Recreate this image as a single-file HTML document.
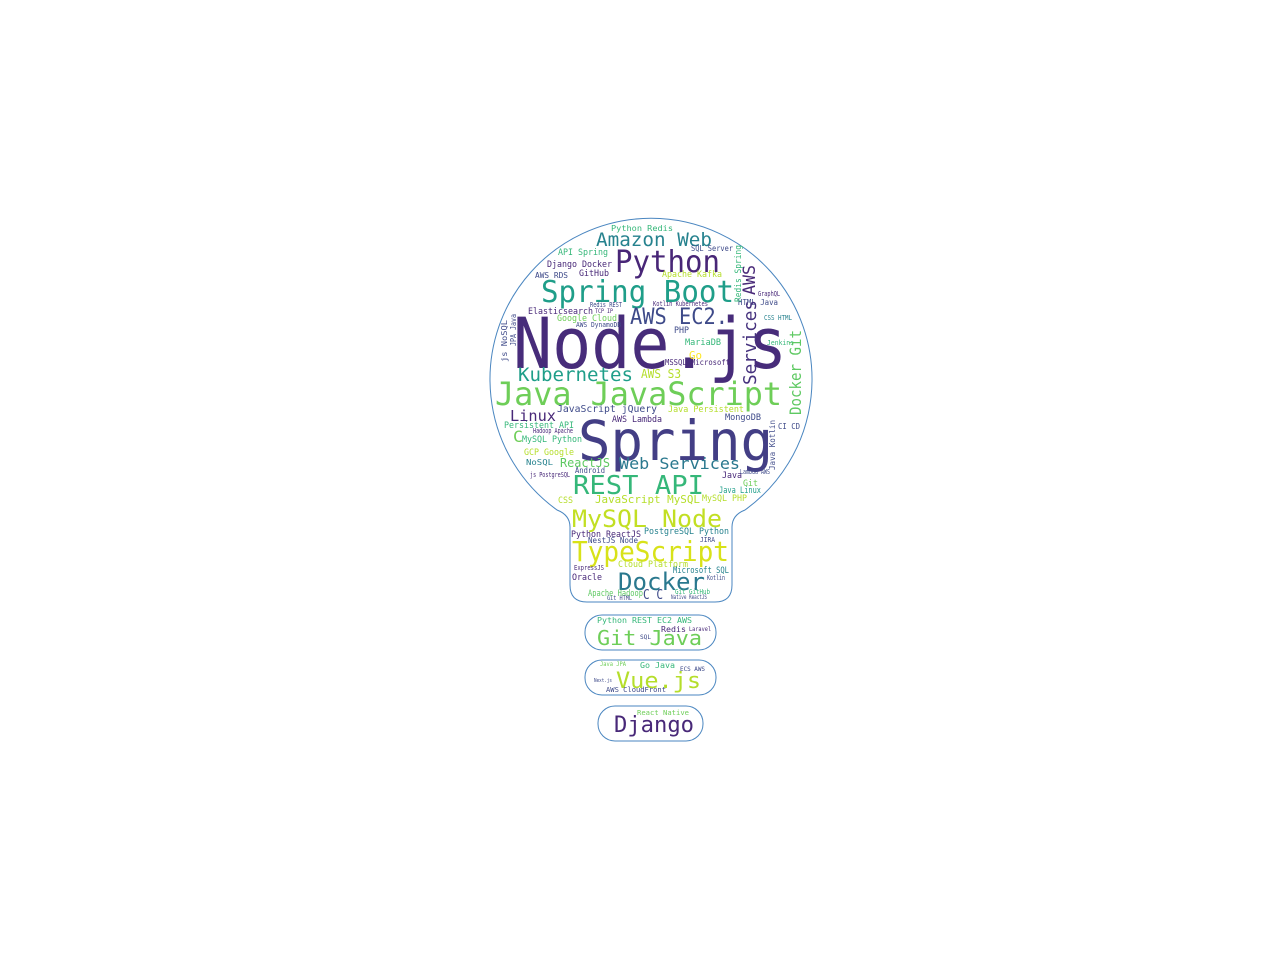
<!DOCTYPE html>
<html><head><meta charset="utf-8"><style>
html,body{margin:0;padding:0;background:#fff;width:1280px;height:960px;overflow:hidden}
svg{display:block}
text{font-family:"DejaVu Sans Mono","Liberation Mono",monospace}
</style></head><body>
<svg id="cloud" width="1280" height="960" viewBox="0 0 1280 960">
<g fill="none" stroke="#4a86c0" stroke-width="1">
<path d="M557,510 Q570,515 570,527 L570,585 Q570,602 587,602 L715,602 Q732,602 732,585 L732,527 Q732,515 745,510 A161 161 0 1 0 557,510 Z"/>
<rect x="585" y="615" width="131" height="35" rx="17"/>
<rect x="585" y="660" width="131" height="35" rx="17"/>
<rect x="598" y="706" width="105" height="35" rx="17"/>
</g>
<g id="words"></g>
</svg>
<script>
const words = ["Node.js","Spring","Java JavaScript","Spring Boot","Python","Amazon Web","AWS EC2.","Kubernetes","REST API","MySQL Node","TypeScript","Docker","Web Services","Linux","Git Java","Vue.js","Django",
"Python Redis","API Spring","SQL Server","Django Docker","GitHub","AWS RDS","Apache Kafka","Elasticsearch","Google Cloud","HTML Java","GraphQL","PHP","MariaDB","Go","MSSQL Microsoft","AWS S3","Jenkins","CSS HTML","Kotlin Kubernetes","Redis REST","TCP IP","AWS DynamoDB",
"JavaScript jQuery","Java Persistent","AWS Lambda","MongoDB","Persistent API","C","MySQL Python","Hadoop Apache","GCP Google","NoSQL","ReactJS","Android","js PostgreSQL","CI CD","Java","Lambda AWS","Git","Java Linux","MySQL PHP","JavaScript MySQL","CSS","Python ReactJS","NestJS Node","PostgreSQL Python","JIRA","Cloud Platform","Microsoft SQL","ExpressJS","Oracle","Kotlin","Apache Hadoop","C C","Git GitHub","Git HTML","Native ReactJS",
"Python REST EC2 AWS","Redis","Laravel","SQL","Java JPA","Go Java","ECS AWS","AWS CloudFront","Next.js","React Native",
"Services","Docker Git","AWS","Redis Spring","js NoSQL","JPA Java","Java Kotlin"];
const weights = [70,55,32,30,30,19,22,19,26,24,28,24,16,15,20,22,22,
8,9,8,9,9,8,9,9,9,8,7,9,9,11,8,12,7,7,7,7,6,7,
10,9,9,9,9,16,9,7,9,8,12,8,7,8,9,7,9,9,9,11,9,9,8,9,7,9,9,7,9,7,9,13,7,6,6,
8,8,6,6,6,8,6,7,5,7,
18,16,17,9,8,8,8];
const colors = ["#472c7a","#433e85","#6ece58","#1f9e89","#482677","#26828e","#3e4a89","#1f9e89","#35b779","#c2df23","#d8e219","#2a788e","#2a788e","#482878","#6ece58","#b5de2b","#482878",
"#35b779","#35b779","#3e4a89","#482878","#482878","#3e4a89","#b5de2b","#482878","#6ece58","#3e4a89","#482878","#3e4a89","#35b779","#fde725","#482878","#b5de2b","#35b779","#26828e","#482878","#3e4a89","#482878","#3e4a89",
"#3e4a89","#b5de2b","#482878","#3e4a89","#35b779","#6ece58","#35b779","#482878","#b5de2b","#26828e","#5ec962","#3e4a89","#482878","#3e4a89","#482878","#3e4a89","#6ece58","#1f9e89","#b5de2b","#b5de2b","#b5de2b","#482878","#3e4a89","#26828e","#3e4a89","#b5de2b","#26828e","#482878","#482878","#3e4a89","#5ec962","#3e4a89","#35b779","#3e4a89","#3e4a89",
"#35b779","#482878","#482878","#3e4a89","#6ece58","#35b779","#3e4a89","#3e4a89","#3e4a89","#6ece58",
"#46327e","#5ec962","#482878","#35b779","#3e4a89","#3e4a89","#3e4a89"];
// layout from wordcloud placement: [x, baseline y, width, rotated]
const layout = [[513,368,274,0],[578,460,195,0],[495,405,287,0],[541,302,193,0],[615,272,105,0],[596,246,116,0],[630,324,98,0],[518,381,115,0],[573,494,131,0],[572,527,150,0],[572,561,157,0],[618,590,87,0],[619,469,121,0],[510,421,46,0],[597,645,105,0],[616,688,85,0],[614,732,80,0],
[611,231,62,0],[558,255,50,0],[691,251,42,0],[547,267,65,0],[579,276,30,0],[535,278,33,0],[662,277,60,0],[528,314,65,0],[557,321,60,0],[738,305,40,0],[758,296,22,0],[674,333,15,0],[685,345,36,0],[689,359,13,0],[665,365,65,0],[641,378,40,0],[767,345,27,0],[764,320,28,0],[653,306,55,0],[590,307,32,0],[595,313,18,0],[576,327,45,0],
[557,412,100,0],[668,412,76,0],[612,422,50,0],[725,420,36,0],[504,428,70,0],[513,442,10,0],[522,442,60,0],[533,433,40,0],[524,455,50,0],[526,465,27,0],[560,467,50,0],[575,473,30,0],[530,477,40,0],[778,429,22,0],[722,478,20,0],[740,474,30,0],[743,486,15,0],[719,493,42,0],[702,501,45,0],[595,503,105,0],[558,503,15,0],[571,537,70,0],[588,543,50,0],[644,534,85,0],[700,542,15,0],[618,567,70,0],[673,573,56,0],[574,570,30,0],[572,580,30,0],[707,580,18,0],[588,596,55,0],[643,599,20,0],[675,594,35,0],[607,600,25,0],[671,599,36,0],
[597,623,95,0],[661,632,25,0],[689,631,22,0],[640,639,11,0],[600,666,26,0],[640,668,35,0],[680,671,25,0],[606,692,60,0],[594,682,18,0],[637,715,52,0],
[756,385,85,1],[801,415,85,1],[755,295,30,1],[741,302,57,1],[507,362,42,1],[516,346,32,1],[775,470,50,1]];
const g = document.getElementById('words');
const NS = 'http://www.w3.org/2000/svg';
for (let i = 0; i < words.length; i++) {
  const t = document.createElementNS(NS, 'text');
  
  
  const p = layout[i];
  t.setAttribute('x', p[0]);
  t.setAttribute('y', p[1]);
  t.setAttribute('font-size', weights[i]);
  t.setAttribute('fill', colors[i]);
  t.setAttribute('textLength', p[2]);
  t.setAttribute('lengthAdjust', 'spacingAndGlyphs');
  if (p[3]) t.setAttribute('transform', 'rotate(-90 ' + p[0] + ' ' + p[1] + ')');
  t.textContent = words[i];
  g.appendChild(t);
}
</script>
</body></html>
